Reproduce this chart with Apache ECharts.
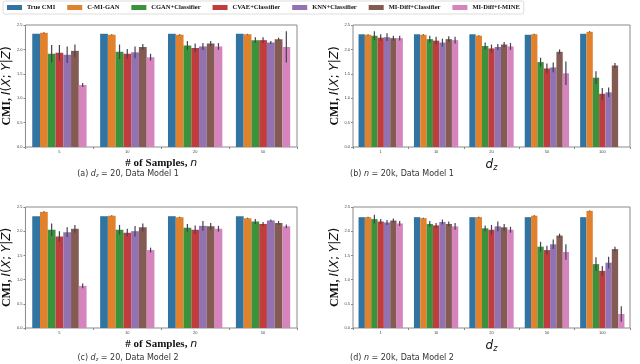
<!DOCTYPE html>
<html>
<head>
<meta charset="utf-8">
<script src="https://cdn.jsdelivr.net/npm/echarts@6/dist/echarts.min.js"></script>
<style>
  html, body { margin: 0; padding: 0; background: #fff; }
  #chart { width: 640px; height: 364px; }
</style>
</head>
<body>
<div id="chart"></div>
<script>
// categories
const sampleCats = ['5', '10', '20', '50']
const dimCats = ['1', '10', '20', '50', '100']
const methods = ['True CMI', 'C-MI-GAN', 'CGAN+Classifier', 'CVAE+Classifier', 'KNN+Classifier', 'MI-Diff+Classifier', 'MI-Diff+f-MINE']
const colors = ['#3274a1', '#e1812c', '#3a923a', '#c03d3e', '#9372b2', '#845b53', '#d684bd']
const yTicks = ['0.0', '0.5', '1.0', '1.5', '2.0', '2.5']

// (a) d_z = 20, model 1 : one row per method, one value per category
const aMean = [
  [2.32, 2.32, 2.32, 2.32],
  [2.34, 2.30, 2.30, 2.31],
  [1.91, 1.95, 2.08, 2.19],
  [1.93, 1.91, 2.03, 2.19],
  [1.89, 1.94, 2.06, 2.14],
  [1.97, 2.05, 2.12, 2.21],
  [1.27, 1.84, 2.06, 2.05],
]
const aErr = [
  [0, 0, 0, 0],
  [0.01, 0.01, 0.01, 0.01],
  [0.18, 0.15, 0.09, 0.06],
  [0.16, 0.10, 0.09, 0.06],
  [0.17, 0.12, 0.07, 0.03],
  [0.13, 0.06, 0.05, 0.03],
  [0.04, 0.07, 0.07, 0.32],
]

// (b) n = 20k, model 1
const bMean = [
  [2.31, 2.31, 2.31, 2.30, 2.32],
  [2.30, 2.30, 2.28, 2.31, 2.36],
  [2.28, 2.21, 2.07, 1.74, 1.42],
  [2.24, 2.18, 2.02, 1.61, 1.09],
  [2.25, 2.14, 2.05, 1.63, 1.12],
  [2.23, 2.21, 2.10, 1.95, 1.67],
  [2.23, 2.19, 2.06, 1.51, '-'],
]
const bErr = [
  [0, 0, 0, 0, 0],
  [0.01, 0.01, 0.01, 0.01, 0.01],
  [0.09, 0.07, 0.07, 0.09, 0.13],
  [0.07, 0.08, 0.08, 0.10, 0.12],
  [0.08, 0.08, 0.06, 0.10, 0.10],
  [0.05, 0.06, 0.05, 0.05, 0.05],
  [0.05, 0.07, 0.07, 0.24, 0],
]

// (c) d_z = 20, model 2
const cMean = [
  [2.31, 2.31, 2.31, 2.31],
  [2.40, 2.32, 2.29, 2.27],
  [2.03, 2.03, 2.07, 2.20],
  [1.89, 1.97, 2.03, 2.15],
  [1.98, 2.00, 2.11, 2.22],
  [2.05, 2.08, 2.10, 2.17],
  [0.87, 1.61, 2.05, 2.10],
]
const cErr = [
  [0, 0, 0, 0],
  [0.01, 0.01, 0.01, 0.01],
  [0.13, 0.10, 0.08, 0.05],
  [0.11, 0.08, 0.09, 0.04],
  [0.10, 0.11, 0.10, 0.02],
  [0.08, 0.08, 0.07, 0.04],
  [0.05, 0.05, 0.06, 0.04],
]

// (d) n = 20k, model 2
const dMean = [
  [2.29, 2.29, 2.29, 2.29, 2.29],
  [2.29, 2.27, 2.29, 2.32, 2.42],
  [2.25, 2.15, 2.06, 1.68, 1.32],
  [2.20, 2.12, 2.03, 1.61, 1.18],
  [2.18, 2.19, 2.10, 1.73, 1.35],
  [2.22, 2.15, 2.08, 1.91, 1.63],
  [2.16, 2.10, 2.03, 1.57, 0.29],
]
const dErr = [
  [0, 0, 0, 0, 0],
  [0.01, 0.01, 0.01, 0.01, 0.01],
  [0.09, 0.06, 0.06, 0.10, 0.14],
  [0.05, 0.05, 0.10, 0.09, 0.10],
  [0.05, 0.05, 0.10, 0.10, 0.12],
  [0.04, 0.05, 0.07, 0.04, 0.05],
  [0.05, 0.07, 0.06, 0.16, 0.16],
]

const panels = [
  { cats: sampleCats, mean: aMean, err: aErr, grid: { left: 20, top: 25, width: 277, height: 122 }, xname: 'samples' },
  { cats: dimCats, mean: bMean, err: bErr, grid: { left: 353, top: 25, width: 277, height: 122 }, xname: 'dz' },
  { cats: sampleCats, mean: cMean, err: cErr, grid: { left: 20, top: 207, width: 277, height: 121 }, xname: 'samples' },
  { cats: dimCats, mean: dMean, err: dErr, grid: { left: 353, top: 207, width: 277, height: 121 }, xname: 'dz' },
]

const serif = 'Liberation Serif'
const sans = 'DejaVu Sans'

const xNames = {
  samples: {
    text: '# of Samples, {i|n}',
    rich: { i: { fontFamily: sans, fontStyle: 'italic', fontWeight: 'normal', fontSize: 11, color: '#111' } },
  },
  dz: {
    text: '{d|d}{s|z}',
    rich: {
      d: { fontFamily: sans, fontStyle: 'italic', fontWeight: 'normal', fontSize: 12, color: '#111' },
      s: { fontFamily: sans, fontStyle: 'italic', fontWeight: 'normal', fontSize: 8, color: '#111', padding: [6, 0, 0, 0] },
    },
  },
}

const chart = echarts.init(document.getElementById('chart'), null, { renderer: 'canvas' })

const grids = [], xAxes = [], yAxes = [], series = []
panels.forEach((p, gi) => {
  grids.push(Object.assign({ show: true, borderColor: '#8a8a8a', borderWidth: 1, backgroundColor: '#fff' }, p.grid))
  xAxes.push({
    type: 'category', gridIndex: gi, data: p.cats,
    axisLine: { show: false }, axisTick: { show: true, length: 2, lineStyle: { color: '#888' } },
    axisLabel: { fontSize: 4, color: '#444', margin: 3 },
    name: xNames[p.xname].text, nameLocation: 'middle', nameGap: 11,
    nameTextStyle: { fontFamily: serif, fontWeight: 'bold', fontSize: 11, color: '#111', rich: xNames[p.xname].rich },
  })
  yAxes.push({
    type: 'value', gridIndex: gi, min: 0, max: 2.5, interval: 0.5,
    axisLine: { show: false }, axisTick: { show: true, length: 2, lineStyle: { color: '#888' } }, splitLine: { show: false },
    axisLabel: { fontSize: 4, color: '#444', margin: 3, formatter: v => yTicks[Math.round(v / 0.5)] },
    name: '{b|CMI, }{i|I}{m|(}{i|X}{m|; }{i|Y}{m||}{i|Z}{m|)}', nameLocation: 'middle', nameGap: 12, nameRotate: 90,
    nameTextStyle: {
      fontFamily: serif, fontSize: 12, color: '#111',
      rich: {
        b: { fontFamily: serif, fontWeight: 'bold', fontSize: 12, color: '#111' },
        i: { fontFamily: sans, fontStyle: 'italic', fontWeight: 'normal', fontSize: 12, color: '#111' },
        m: { fontFamily: sans, fontWeight: 'normal', fontSize: 12, color: '#111' },
      },
    },
  })
  methods.forEach((m, si) => {
    series.push({
      name: m, type: 'bar', xAxisIndex: gi, yAxisIndex: gi,
      data: p.mean[si], barGap: '0%', barCategoryGap: '20%',
      itemStyle: { color: colors[si] }, silent: true, animation: false,
    })
    const errData = p.cats.map((c, ci) => {
      const v = p.mean[si][ci]
      const e = p.err[si][ci]
      return (v === '-' || !e) ? null : [ci, v - e, v + e]
    }).filter(d => d)
    series.push({
      type: 'custom', xAxisIndex: gi, yAxisIndex: gi, silent: true, animation: false, z: 5,
      data: errData,
      renderItem: (params, api) => {
        const lo = api.coord([api.value(0), api.value(1)])
        const hi = api.coord([api.value(0), api.value(2)])
        const band = api.size([1, 0])[0]
        const bw = band * 0.8 / methods.length
        const x = lo[0] - band * 0.4 + bw * (si + 0.5)
        return { type: 'line', shape: { x1: x, y1: lo[1], x2: x, y2: hi[1] }, style: { stroke: '#424254', lineWidth: 1.2 } }
      },
    })
  })
})

const captions = [
  { x: 128, y: 174, text: '(a) {i|d}{s|z} = 20, Data Model 1' },
  { x: 402, y: 174, text: '(b) {i|n} = 20k, Data Model 1' },
  { x: 128, y: 358, text: '(c) {i|d}{s|z} = 20, Data Model 2' },
  { x: 402, y: 358, text: '(d) {i|n} = 20k, Data Model 2' },
]

const option = {
  backgroundColor: '#fff',
  animation: false,
  color: colors,
  legend: {
    data: methods, left: 3, top: 1, itemWidth: 15, itemHeight: 5, itemGap: 12,
    padding: [3, 4, 3, 4], borderColor: '#ddd', borderWidth: 1, borderRadius: 2,
    textStyle: { fontFamily: serif, fontWeight: 'bold', fontSize: 6.5, color: '#111' },
    icon: 'rect',
  },
  grid: grids,
  xAxis: xAxes,
  yAxis: yAxes,
  series: series,
  graphic: captions.map(c => ({
    type: 'text', x: c.x, y: c.y,
    style: {
      text: c.text, fontFamily: sans, fontSize: 8, fill: '#333', align: 'center', verticalAlign: 'middle',
      rich: {
        i: { fontFamily: sans, fontStyle: 'italic', fontSize: 8, fill: '#333' },
        s: { fontFamily: sans, fontStyle: 'italic', fontSize: 5, fill: '#333', padding: [3, 0, 0, 0] },
      },
    },
  })),
}

chart.setOption(option)
</script>
</body>
</html>
